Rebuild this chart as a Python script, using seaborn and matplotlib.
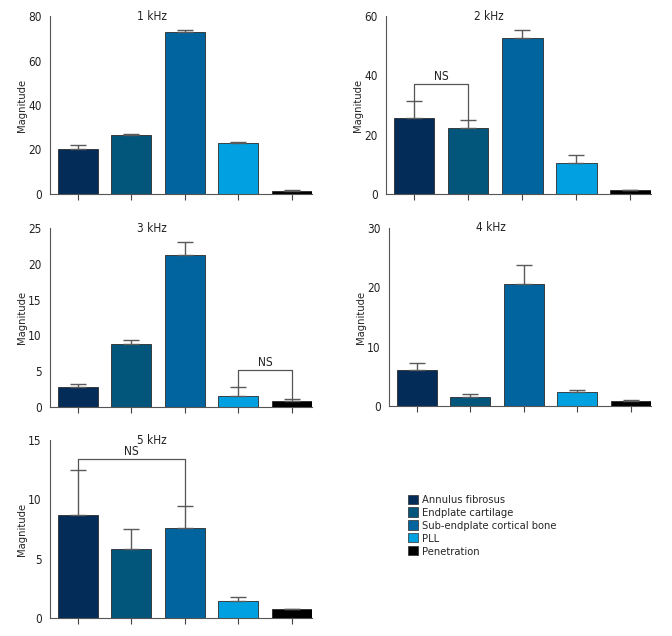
import matplotlib
matplotlib.use('Agg')
import matplotlib.pyplot as plt
from matplotlib.patches import Patch
import seaborn as sns
import numpy as np

# Tissue groups and colours
groups = ['Annulus fibrosus', 'Endplate cartilage', 'Sub-endplate cortical bone', 'PLL', 'Penetration']
colors = ['#032d58', '#02567c', '#02649e', '#00a0e1', '#000000']

# Mean magnitude per frequency panel
freqs = ['1 kHz', '2 kHz', '3 kHz', '4 kHz', '5 kHz']
mean_1k = [20.3, 26.5, 73.0, 22.8, 1.5]
mean_2k = [25.5, 22.3, 52.7, 10.4, 1.2]
mean_3k = [2.8, 8.8, 21.2, 1.5, 0.9]
mean_4k = [6.0, 1.6, 20.6, 2.3, 0.9]
mean_5k = [8.7, 5.8, 7.6, 1.4, 0.75]

# Upper error (SD) per bar
err_1k = [1.6, 0.6, 0.5, 0.7, 0.3]
err_2k = [5.7, 2.5, 2.6, 2.9, 0.2]
err_3k = [0.4, 0.6, 1.8, 1.3, 0.15]
err_4k = [1.2, 0.4, 3.2, 0.4, 0.1]
err_5k = [3.8, 1.7, 1.8, 0.4, 0.05]

# y-axis limits / tick steps
ymax = [80, 60, 25, 30, 15]
ystep = [20, 20, 5, 10, 5]

# NS brackets: (panel, left bar, right bar, bracket height)
brackets = [(1, 0, 1, 37), (2, 3, 4, 5.1), (4, 0, 2, 13.4)]

means = [mean_1k, mean_2k, mean_3k, mean_4k, mean_5k]
errs = [err_1k, err_2k, err_3k, err_4k, err_5k]

sns.set_style('white')
plt.rcParams['font.family'] = ['DejaVu Sans']
plt.rcParams['font.stretch'] = 'condensed'

fig = plt.figure(figsize=(6.72, 6.36), dpi=100)
W, H = 672, 636
# axes boxes in pixels: left, right, top, bottom
boxes = [(50, 312, 16, 194), (386, 651, 16, 194),
         (50, 312, 228, 407), (389, 651, 228, 406),
         (50, 312, 440, 618)]

axes = []
for i, (l, r, t, b) in enumerate(boxes):
    ax = fig.add_axes([l / W, 1 - b / H, (r - l) / W, (b - t) / H])
    axes.append(ax)
    sns.barplot(x=groups, y=means[i], hue=groups, palette=colors, legend=False,
                errorbar=None, width=0.75, saturation=1, edgecolor='#2a2a2a',
                linewidth=0.6, ax=ax)
    ax.errorbar(np.arange(len(groups)), means[i],
                yerr=[np.zeros(len(groups)), errs[i]], fmt='none',
                ecolor='#5a5a5a', elinewidth=1.0, capsize=5.5, capthick=1.0, zorder=1)
    ax.set_xlim(-0.52, 4.38)
    ax.set_ylim(0, ymax[i])
    ax.set_yticks(np.arange(0, ymax[i] + 0.1, ystep[i]))
    ax.set_xticklabels([])
    ax.set_xlabel('')
    ax.set_ylabel('Magnitude', fontsize=8, labelpad=1)
    ax.tick_params(axis='both', direction='out', length=4, width=0.8, pad=2,
                   colors='#444444', labelcolor='#222222', labelsize=8.5)
    ax.tick_params(axis='x', bottom=True)
    for side in ['top', 'right']:
        ax.spines[side].set_visible(False)
    for side in ['left', 'bottom']:
        ax.spines[side].set_color('#555555')
        ax.spines[side].set_linewidth(0.8)
    ax.text(0.39, 1.0, freqs[i], transform=ax.transAxes, ha='center', va='center',
            fontsize=8.5, color='#222222')

for p, a, b, h in brackets:
    ax = axes[p]
    top_a = means[p][a] + errs[p][a]
    top_b = means[p][b] + errs[p][b]
    ax.plot([a, a, b, b], [top_a, h, h, top_b], color='#555555', lw=0.9)
    ax.annotate('NS', xy=((a + b) / 2, h), xytext=(0, 1), textcoords='offset points',
                ha='center', va='bottom', fontsize=8.5, color='#222222')

handles = [Patch(facecolor=c, edgecolor='#2a2a2a', linewidth=0.5) for c in colors]
fig.legend(handles, groups, loc='upper left', bbox_to_anchor=(402 / W, 1 - 489 / H),
           frameon=False, fontsize=8, handlelength=0.9, handleheight=0.9,
           handletextpad=0.4, labelspacing=0.22, borderpad=0)

fig.savefig('out.png', dpi=100)
